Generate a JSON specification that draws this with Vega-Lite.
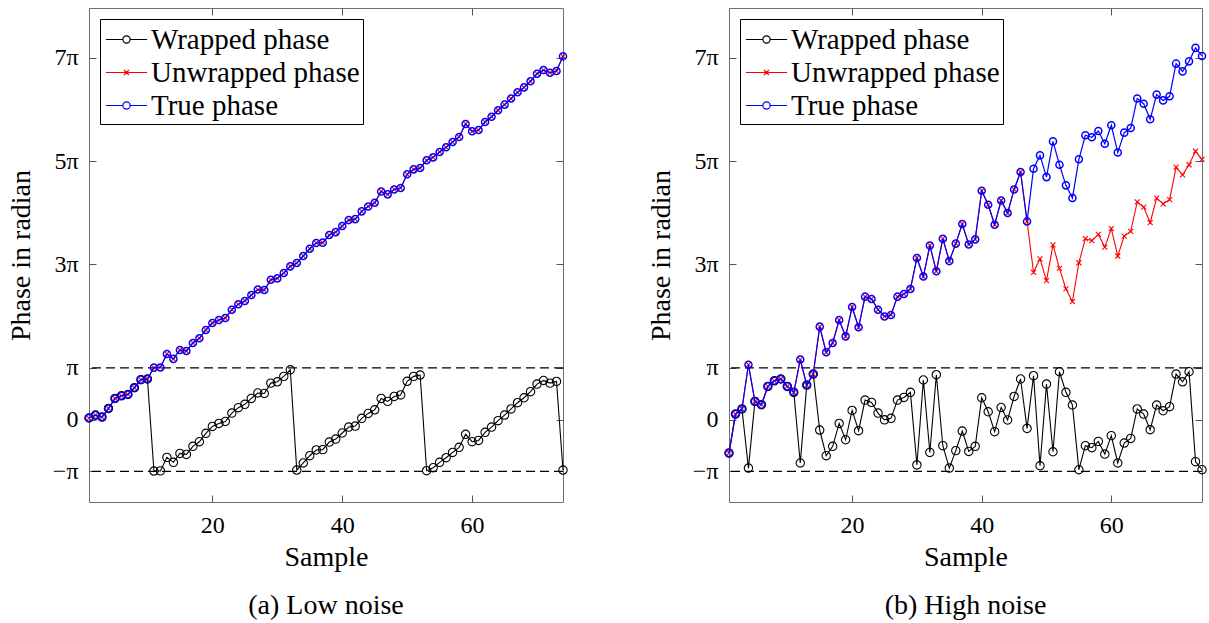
{
  "$schema": "https://vega.github.io/schema/vega-lite/v6.json",
  "background": "white",
  "padding": {"left": 6, "top": 7, "right": 2, "bottom": 0},
  "spacing": 75,
  "datasets": {
    "refs": [{"r": 3.14159265}, {"r": -3.14159265}],
    "a": [
{"s":"Wrapped phase","n":1,"v":0.1},{"s":"Wrapped phase","n":2,"v":0.28},{"s":"Wrapped phase","n":3,"v":0.16},{"s":"Wrapped phase","n":4,"v":0.68},{"s":"Wrapped phase","n":5,"v":1.29},{"s":"Wrapped phase","n":6,"v":1.45},{"s":"Wrapped phase","n":7,"v":1.53},{"s":"Wrapped phase","n":8,"v":1.94},{"s":"Wrapped phase","n":9,"v":2.43},{"s":"Wrapped phase","n":10,"v":2.47},{"s":"Wrapped phase","n":11,"v":-3.12},{"s":"Wrapped phase","n":12,"v":-3.11},{"s":"Wrapped phase","n":13,"v":-2.29},{"s":"Wrapped phase","n":14,"v":-2.59},{"s":"Wrapped phase","n":15,"v":-2.05},{"s":"Wrapped phase","n":16,"v":-2.11},{"s":"Wrapped phase","n":17,"v":-1.62},{"s":"Wrapped phase","n":18,"v":-1.34},{"s":"Wrapped phase","n":19,"v":-0.83},{"s":"Wrapped phase","n":20,"v":-0.41},{"s":"Wrapped phase","n":21,"v":-0.23},{"s":"Wrapped phase","n":22,"v":-0.11},{"s":"Wrapped phase","n":23,"v":0.4},{"s":"Wrapped phase","n":24,"v":0.73},{"s":"Wrapped phase","n":25,"v":0.93},{"s":"Wrapped phase","n":26,"v":1.29},{"s":"Wrapped phase","n":27,"v":1.62},{"s":"Wrapped phase","n":28,"v":1.59},{"s":"Wrapped phase","n":29,"v":2.22},{"s":"Wrapped phase","n":30,"v":2.3},{"s":"Wrapped phase","n":31,"v":2.63},{"s":"Wrapped phase","n":32,"v":3.03},{"s":"Wrapped phase","n":33,"v":-3.06},{"s":"Wrapped phase","n":34,"v":-2.63},{"s":"Wrapped phase","n":35,"v":-2.19},{"s":"Wrapped phase","n":36,"v":-1.84},{"s":"Wrapped phase","n":37,"v":-1.82},{"s":"Wrapped phase","n":38,"v":-1.36},{"s":"Wrapped phase","n":39,"v":-1.18},{"s":"Wrapped phase","n":40,"v":-0.81},{"s":"Wrapped phase","n":41,"v":-0.45},{"s":"Wrapped phase","n":42,"v":-0.39},{"s":"Wrapped phase","n":43,"v":0.08},{"s":"Wrapped phase","n":44,"v":0.38},{"s":"Wrapped phase","n":45,"v":0.6},{"s":"Wrapped phase","n":46,"v":1.29},{"s":"Wrapped phase","n":47,"v":1.11},{"s":"Wrapped phase","n":48,"v":1.41},{"s":"Wrapped phase","n":49,"v":1.5},{"s":"Wrapped phase","n":50,"v":2.33},{"s":"Wrapped phase","n":51,"v":2.63},{"s":"Wrapped phase","n":52,"v":2.71},{"s":"Wrapped phase","n":53,"v":-3.1},{"s":"Wrapped phase","n":54,"v":-2.92},{"s":"Wrapped phase","n":55,"v":-2.59},{"s":"Wrapped phase","n":56,"v":-2.31},{"s":"Wrapped phase","n":57,"v":-1.99},{"s":"Wrapped phase","n":58,"v":-1.68},{"s":"Wrapped phase","n":59,"v":-0.89},{"s":"Wrapped phase","n":60,"v":-1.34},{"s":"Wrapped phase","n":61,"v":-1.26},{"s":"Wrapped phase","n":62,"v":-0.77},{"s":"Wrapped phase","n":63,"v":-0.45},{"s":"Wrapped phase","n":64,"v":-0.06},{"s":"Wrapped phase","n":65,"v":0.28},{"s":"Wrapped phase","n":66,"v":0.65},{"s":"Wrapped phase","n":67,"v":1.03},{"s":"Wrapped phase","n":68,"v":1.33},{"s":"Wrapped phase","n":69,"v":1.7},{"s":"Wrapped phase","n":70,"v":2.16},{"s":"Wrapped phase","n":71,"v":2.38},{"s":"Wrapped phase","n":72,"v":2.22},{"s":"Wrapped phase","n":73,"v":2.32},{"s":"Wrapped phase","n":74,"v":-3.06},
{"s":"Unwrapped phase","n":1,"v":0.1},{"s":"Unwrapped phase","n":2,"v":0.28},{"s":"Unwrapped phase","n":3,"v":0.16},{"s":"Unwrapped phase","n":4,"v":0.68},{"s":"Unwrapped phase","n":5,"v":1.29},{"s":"Unwrapped phase","n":6,"v":1.45},{"s":"Unwrapped phase","n":7,"v":1.53},{"s":"Unwrapped phase","n":8,"v":1.94},{"s":"Unwrapped phase","n":9,"v":2.43},{"s":"Unwrapped phase","n":10,"v":2.47},{"s":"Unwrapped phase","n":11,"v":3.16},{"s":"Unwrapped phase","n":12,"v":3.17},{"s":"Unwrapped phase","n":13,"v":3.99},{"s":"Unwrapped phase","n":14,"v":3.69},{"s":"Unwrapped phase","n":15,"v":4.23},{"s":"Unwrapped phase","n":16,"v":4.17},{"s":"Unwrapped phase","n":17,"v":4.66},{"s":"Unwrapped phase","n":18,"v":4.94},{"s":"Unwrapped phase","n":19,"v":5.45},{"s":"Unwrapped phase","n":20,"v":5.87},{"s":"Unwrapped phase","n":21,"v":6.05},{"s":"Unwrapped phase","n":22,"v":6.17},{"s":"Unwrapped phase","n":23,"v":6.68},{"s":"Unwrapped phase","n":24,"v":7.01},{"s":"Unwrapped phase","n":25,"v":7.21},{"s":"Unwrapped phase","n":26,"v":7.57},{"s":"Unwrapped phase","n":27,"v":7.9},{"s":"Unwrapped phase","n":28,"v":7.87},{"s":"Unwrapped phase","n":29,"v":8.5},{"s":"Unwrapped phase","n":30,"v":8.58},{"s":"Unwrapped phase","n":31,"v":8.91},{"s":"Unwrapped phase","n":32,"v":9.31},{"s":"Unwrapped phase","n":33,"v":9.51},{"s":"Unwrapped phase","n":34,"v":9.94},{"s":"Unwrapped phase","n":35,"v":10.38},{"s":"Unwrapped phase","n":36,"v":10.73},{"s":"Unwrapped phase","n":37,"v":10.75},{"s":"Unwrapped phase","n":38,"v":11.21},{"s":"Unwrapped phase","n":39,"v":11.39},{"s":"Unwrapped phase","n":40,"v":11.76},{"s":"Unwrapped phase","n":41,"v":12.12},{"s":"Unwrapped phase","n":42,"v":12.18},{"s":"Unwrapped phase","n":43,"v":12.65},{"s":"Unwrapped phase","n":44,"v":12.95},{"s":"Unwrapped phase","n":45,"v":13.17},{"s":"Unwrapped phase","n":46,"v":13.86},{"s":"Unwrapped phase","n":47,"v":13.68},{"s":"Unwrapped phase","n":48,"v":13.98},{"s":"Unwrapped phase","n":49,"v":14.07},{"s":"Unwrapped phase","n":50,"v":14.9},{"s":"Unwrapped phase","n":51,"v":15.2},{"s":"Unwrapped phase","n":52,"v":15.28},{"s":"Unwrapped phase","n":53,"v":15.75},{"s":"Unwrapped phase","n":54,"v":15.93},{"s":"Unwrapped phase","n":55,"v":16.26},{"s":"Unwrapped phase","n":56,"v":16.54},{"s":"Unwrapped phase","n":57,"v":16.86},{"s":"Unwrapped phase","n":58,"v":17.17},{"s":"Unwrapped phase","n":59,"v":17.96},{"s":"Unwrapped phase","n":60,"v":17.51},{"s":"Unwrapped phase","n":61,"v":17.59},{"s":"Unwrapped phase","n":62,"v":18.08},{"s":"Unwrapped phase","n":63,"v":18.4},{"s":"Unwrapped phase","n":64,"v":18.79},{"s":"Unwrapped phase","n":65,"v":19.13},{"s":"Unwrapped phase","n":66,"v":19.5},{"s":"Unwrapped phase","n":67,"v":19.88},{"s":"Unwrapped phase","n":68,"v":20.18},{"s":"Unwrapped phase","n":69,"v":20.55},{"s":"Unwrapped phase","n":70,"v":21.01},{"s":"Unwrapped phase","n":71,"v":21.23},{"s":"Unwrapped phase","n":72,"v":21.07},{"s":"Unwrapped phase","n":73,"v":21.17},{"s":"Unwrapped phase","n":74,"v":22.07},
{"s":"True phase","n":1,"v":0.1},{"s":"True phase","n":2,"v":0.28},{"s":"True phase","n":3,"v":0.16},{"s":"True phase","n":4,"v":0.68},{"s":"True phase","n":5,"v":1.29},{"s":"True phase","n":6,"v":1.45},{"s":"True phase","n":7,"v":1.53},{"s":"True phase","n":8,"v":1.94},{"s":"True phase","n":9,"v":2.43},{"s":"True phase","n":10,"v":2.47},{"s":"True phase","n":11,"v":3.16},{"s":"True phase","n":12,"v":3.17},{"s":"True phase","n":13,"v":3.99},{"s":"True phase","n":14,"v":3.69},{"s":"True phase","n":15,"v":4.23},{"s":"True phase","n":16,"v":4.17},{"s":"True phase","n":17,"v":4.66},{"s":"True phase","n":18,"v":4.94},{"s":"True phase","n":19,"v":5.45},{"s":"True phase","n":20,"v":5.87},{"s":"True phase","n":21,"v":6.05},{"s":"True phase","n":22,"v":6.17},{"s":"True phase","n":23,"v":6.68},{"s":"True phase","n":24,"v":7.01},{"s":"True phase","n":25,"v":7.21},{"s":"True phase","n":26,"v":7.57},{"s":"True phase","n":27,"v":7.9},{"s":"True phase","n":28,"v":7.87},{"s":"True phase","n":29,"v":8.5},{"s":"True phase","n":30,"v":8.58},{"s":"True phase","n":31,"v":8.91},{"s":"True phase","n":32,"v":9.31},{"s":"True phase","n":33,"v":9.51},{"s":"True phase","n":34,"v":9.94},{"s":"True phase","n":35,"v":10.38},{"s":"True phase","n":36,"v":10.73},{"s":"True phase","n":37,"v":10.75},{"s":"True phase","n":38,"v":11.21},{"s":"True phase","n":39,"v":11.39},{"s":"True phase","n":40,"v":11.76},{"s":"True phase","n":41,"v":12.12},{"s":"True phase","n":42,"v":12.18},{"s":"True phase","n":43,"v":12.65},{"s":"True phase","n":44,"v":12.95},{"s":"True phase","n":45,"v":13.17},{"s":"True phase","n":46,"v":13.86},{"s":"True phase","n":47,"v":13.68},{"s":"True phase","n":48,"v":13.98},{"s":"True phase","n":49,"v":14.07},{"s":"True phase","n":50,"v":14.9},{"s":"True phase","n":51,"v":15.2},{"s":"True phase","n":52,"v":15.28},{"s":"True phase","n":53,"v":15.75},{"s":"True phase","n":54,"v":15.93},{"s":"True phase","n":55,"v":16.26},{"s":"True phase","n":56,"v":16.54},{"s":"True phase","n":57,"v":16.86},{"s":"True phase","n":58,"v":17.17},{"s":"True phase","n":59,"v":17.96},{"s":"True phase","n":60,"v":17.51},{"s":"True phase","n":61,"v":17.59},{"s":"True phase","n":62,"v":18.08},{"s":"True phase","n":63,"v":18.4},{"s":"True phase","n":64,"v":18.79},{"s":"True phase","n":65,"v":19.13},{"s":"True phase","n":66,"v":19.5},{"s":"True phase","n":67,"v":19.88},{"s":"True phase","n":68,"v":20.18},{"s":"True phase","n":69,"v":20.55},{"s":"True phase","n":70,"v":21.01},{"s":"True phase","n":71,"v":21.23},{"s":"True phase","n":72,"v":21.07},{"s":"True phase","n":73,"v":21.17},{"s":"True phase","n":74,"v":22.07}
    ],
    "b": [
{"s":"Wrapped phase","n":1,"v":-2.03},{"s":"Wrapped phase","n":2,"v":0.34},{"s":"Wrapped phase","n":3,"v":0.65},{"s":"Wrapped phase","n":4,"v":-2.94},{"s":"Wrapped phase","n":5,"v":1.11},{"s":"Wrapped phase","n":6,"v":0.91},{"s":"Wrapped phase","n":7,"v":2.02},{"s":"Wrapped phase","n":8,"v":2.36},{"s":"Wrapped phase","n":9,"v":2.47},{"s":"Wrapped phase","n":10,"v":2.02},{"s":"Wrapped phase","n":11,"v":1.66},{"s":"Wrapped phase","n":12,"v":-2.63},{"s":"Wrapped phase","n":13,"v":2.1},{"s":"Wrapped phase","n":14,"v":2.77},{"s":"Wrapped phase","n":15,"v":-0.63},{"s":"Wrapped phase","n":16,"v":-2.19},{"s":"Wrapped phase","n":17,"v":-1.62},{"s":"Wrapped phase","n":18,"v":-0.23},{"s":"Wrapped phase","n":19,"v":-1.22},{"s":"Wrapped phase","n":20,"v":0.56},{"s":"Wrapped phase","n":21,"v":-0.67},{"s":"Wrapped phase","n":22,"v":1.19},{"s":"Wrapped phase","n":23,"v":1.05},{"s":"Wrapped phase","n":24,"v":0.4},{"s":"Wrapped phase","n":25,"v":-0.01},{"s":"Wrapped phase","n":26,"v":0.08},{"s":"Wrapped phase","n":27,"v":1.19},{"s":"Wrapped phase","n":28,"v":1.35},{"s":"Wrapped phase","n":29,"v":1.66},{"s":"Wrapped phase","n":30,"v":-2.75},{"s":"Wrapped phase","n":31,"v":2.41},{"s":"Wrapped phase","n":32,"v":-1.99},{"s":"Wrapped phase","n":33,"v":2.73},{"s":"Wrapped phase","n":34,"v":-1.58},{"s":"Wrapped phase","n":35,"v":-2.94},{"s":"Wrapped phase","n":36,"v":-1.88},{"s":"Wrapped phase","n":37,"v":-0.69},{"s":"Wrapped phase","n":38,"v":-1.93},{"s":"Wrapped phase","n":39,"v":-1.62},{"s":"Wrapped phase","n":40,"v":1.33},{"s":"Wrapped phase","n":41,"v":0.48},{"s":"Wrapped phase","n":42,"v":-0.73},{"s":"Wrapped phase","n":43,"v":0.74},{"s":"Wrapped phase","n":44,"v":-0.02},{"s":"Wrapped phase","n":45,"v":1.41},{"s":"Wrapped phase","n":46,"v":2.47},{"s":"Wrapped phase","n":47,"v":-0.53},{"s":"Wrapped phase","n":48,"v":2.67},{"s":"Wrapped phase","n":49,"v":-2.8},{"s":"Wrapped phase","n":50,"v":2.16},{"s":"Wrapped phase","n":51,"v":-1.95},{"s":"Wrapped phase","n":52,"v":2.91},{"s":"Wrapped phase","n":53,"v":1.66},{"s":"Wrapped phase","n":54,"v":0.89},{"s":"Wrapped phase","n":55,"v":-3.04},{"s":"Wrapped phase","n":56,"v":-1.58},{"s":"Wrapped phase","n":57,"v":-1.7},{"s":"Wrapped phase","n":58,"v":-1.32},{"s":"Wrapped phase","n":59,"v":-2.09},{"s":"Wrapped phase","n":60,"v":-0.97},{"s":"Wrapped phase","n":61,"v":-2.63},{"s":"Wrapped phase","n":62,"v":-1.42},{"s":"Wrapped phase","n":63,"v":-1.14},{"s":"Wrapped phase","n":64,"v":0.65},{"s":"Wrapped phase","n":65,"v":0.34},{"s":"Wrapped phase","n":66,"v":-0.61},{"s":"Wrapped phase","n":67,"v":0.89},{"s":"Wrapped phase","n":68,"v":0.54},{"s":"Wrapped phase","n":69,"v":0.79},{"s":"Wrapped phase","n":70,"v":2.77},{"s":"Wrapped phase","n":71,"v":2.3},{"s":"Wrapped phase","n":72,"v":2.91},{"s":"Wrapped phase","n":73,"v":-2.55},{"s":"Wrapped phase","n":74,"v":-3.04},
{"s":"Unwrapped phase","n":1,"v":-2.03},{"s":"Unwrapped phase","n":2,"v":0.34},{"s":"Unwrapped phase","n":3,"v":0.65},{"s":"Unwrapped phase","n":4,"v":3.34},{"s":"Unwrapped phase","n":5,"v":1.11},{"s":"Unwrapped phase","n":6,"v":0.91},{"s":"Unwrapped phase","n":7,"v":2.02},{"s":"Unwrapped phase","n":8,"v":2.36},{"s":"Unwrapped phase","n":9,"v":2.47},{"s":"Unwrapped phase","n":10,"v":2.02},{"s":"Unwrapped phase","n":11,"v":1.66},{"s":"Unwrapped phase","n":12,"v":3.65},{"s":"Unwrapped phase","n":13,"v":2.1},{"s":"Unwrapped phase","n":14,"v":2.77},{"s":"Unwrapped phase","n":15,"v":5.65},{"s":"Unwrapped phase","n":16,"v":4.09},{"s":"Unwrapped phase","n":17,"v":4.66},{"s":"Unwrapped phase","n":18,"v":6.05},{"s":"Unwrapped phase","n":19,"v":5.06},{"s":"Unwrapped phase","n":20,"v":6.84},{"s":"Unwrapped phase","n":21,"v":5.61},{"s":"Unwrapped phase","n":22,"v":7.47},{"s":"Unwrapped phase","n":23,"v":7.33},{"s":"Unwrapped phase","n":24,"v":6.68},{"s":"Unwrapped phase","n":25,"v":6.27},{"s":"Unwrapped phase","n":26,"v":6.36},{"s":"Unwrapped phase","n":27,"v":7.47},{"s":"Unwrapped phase","n":28,"v":7.63},{"s":"Unwrapped phase","n":29,"v":7.94},{"s":"Unwrapped phase","n":30,"v":9.82},{"s":"Unwrapped phase","n":31,"v":8.69},{"s":"Unwrapped phase","n":32,"v":10.58},{"s":"Unwrapped phase","n":33,"v":9.01},{"s":"Unwrapped phase","n":34,"v":10.99},{"s":"Unwrapped phase","n":35,"v":9.63},{"s":"Unwrapped phase","n":36,"v":10.69},{"s":"Unwrapped phase","n":37,"v":11.88},{"s":"Unwrapped phase","n":38,"v":10.64},{"s":"Unwrapped phase","n":39,"v":10.95},{"s":"Unwrapped phase","n":40,"v":13.9},{"s":"Unwrapped phase","n":41,"v":13.05},{"s":"Unwrapped phase","n":42,"v":11.84},{"s":"Unwrapped phase","n":43,"v":13.31},{"s":"Unwrapped phase","n":44,"v":12.55},{"s":"Unwrapped phase","n":45,"v":13.98},{"s":"Unwrapped phase","n":46,"v":15.04},{"s":"Unwrapped phase","n":47,"v":12.04},{"s":"Unwrapped phase","n":48,"v":8.95},{"s":"Unwrapped phase","n":49,"v":9.77},{"s":"Unwrapped phase","n":50,"v":8.44},{"s":"Unwrapped phase","n":51,"v":10.62},{"s":"Unwrapped phase","n":52,"v":9.19},{"s":"Unwrapped phase","n":53,"v":7.94},{"s":"Unwrapped phase","n":54,"v":7.17},{"s":"Unwrapped phase","n":55,"v":9.53},{"s":"Unwrapped phase","n":56,"v":10.99},{"s":"Unwrapped phase","n":57,"v":10.87},{"s":"Unwrapped phase","n":58,"v":11.25},{"s":"Unwrapped phase","n":59,"v":10.48},{"s":"Unwrapped phase","n":60,"v":11.6},{"s":"Unwrapped phase","n":61,"v":9.94},{"s":"Unwrapped phase","n":62,"v":11.15},{"s":"Unwrapped phase","n":63,"v":11.43},{"s":"Unwrapped phase","n":64,"v":13.22},{"s":"Unwrapped phase","n":65,"v":12.91},{"s":"Unwrapped phase","n":66,"v":11.96},{"s":"Unwrapped phase","n":67,"v":13.46},{"s":"Unwrapped phase","n":68,"v":13.11},{"s":"Unwrapped phase","n":69,"v":13.36},{"s":"Unwrapped phase","n":70,"v":15.34},{"s":"Unwrapped phase","n":71,"v":14.87},{"s":"Unwrapped phase","n":72,"v":15.48},{"s":"Unwrapped phase","n":73,"v":16.3},{"s":"Unwrapped phase","n":74,"v":15.81},
{"s":"True phase","n":1,"v":-2.03},{"s":"True phase","n":2,"v":0.34},{"s":"True phase","n":3,"v":0.65},{"s":"True phase","n":4,"v":3.34},{"s":"True phase","n":5,"v":1.11},{"s":"True phase","n":6,"v":0.91},{"s":"True phase","n":7,"v":2.02},{"s":"True phase","n":8,"v":2.36},{"s":"True phase","n":9,"v":2.47},{"s":"True phase","n":10,"v":2.02},{"s":"True phase","n":11,"v":1.66},{"s":"True phase","n":12,"v":3.65},{"s":"True phase","n":13,"v":2.1},{"s":"True phase","n":14,"v":2.77},{"s":"True phase","n":15,"v":5.65},{"s":"True phase","n":16,"v":4.09},{"s":"True phase","n":17,"v":4.66},{"s":"True phase","n":18,"v":6.05},{"s":"True phase","n":19,"v":5.06},{"s":"True phase","n":20,"v":6.84},{"s":"True phase","n":21,"v":5.61},{"s":"True phase","n":22,"v":7.47},{"s":"True phase","n":23,"v":7.33},{"s":"True phase","n":24,"v":6.68},{"s":"True phase","n":25,"v":6.27},{"s":"True phase","n":26,"v":6.36},{"s":"True phase","n":27,"v":7.47},{"s":"True phase","n":28,"v":7.63},{"s":"True phase","n":29,"v":7.94},{"s":"True phase","n":30,"v":9.82},{"s":"True phase","n":31,"v":8.69},{"s":"True phase","n":32,"v":10.58},{"s":"True phase","n":33,"v":9.01},{"s":"True phase","n":34,"v":10.99},{"s":"True phase","n":35,"v":9.63},{"s":"True phase","n":36,"v":10.69},{"s":"True phase","n":37,"v":11.88},{"s":"True phase","n":38,"v":10.64},{"s":"True phase","n":39,"v":10.95},{"s":"True phase","n":40,"v":13.9},{"s":"True phase","n":41,"v":13.05},{"s":"True phase","n":42,"v":11.84},{"s":"True phase","n":43,"v":13.31},{"s":"True phase","n":44,"v":12.55},{"s":"True phase","n":45,"v":13.98},{"s":"True phase","n":46,"v":15.04},{"s":"True phase","n":47,"v":12.04},{"s":"True phase","n":48,"v":15.24},{"s":"True phase","n":49,"v":16.05},{"s":"True phase","n":50,"v":14.73},{"s":"True phase","n":51,"v":16.9},{"s":"True phase","n":52,"v":15.48},{"s":"True phase","n":53,"v":14.23},{"s":"True phase","n":54,"v":13.46},{"s":"True phase","n":55,"v":15.81},{"s":"True phase","n":56,"v":17.27},{"s":"True phase","n":57,"v":17.15},{"s":"True phase","n":58,"v":17.53},{"s":"True phase","n":59,"v":16.76},{"s":"True phase","n":60,"v":17.88},{"s":"True phase","n":61,"v":16.22},{"s":"True phase","n":62,"v":17.43},{"s":"True phase","n":63,"v":17.71},{"s":"True phase","n":64,"v":19.5},{"s":"True phase","n":65,"v":19.19},{"s":"True phase","n":66,"v":18.24},{"s":"True phase","n":67,"v":19.74},{"s":"True phase","n":68,"v":19.39},{"s":"True phase","n":69,"v":19.64},{"s":"True phase","n":70,"v":21.62},{"s":"True phase","n":71,"v":21.15},{"s":"True phase","n":72,"v":21.76},{"s":"True phase","n":73,"v":22.58},{"s":"True phase","n":74,"v":22.09}
    ]
  },
  "resolve": {"scale": {"color": "independent"}, "legend": {"color": "independent"}},
  "hconcat": [
    {
      "width": 474,
      "height": 494,
      "data": {"name": "a"},
      "title": {"text": "(a) Low noise"},
      "resolve": {"axis": {"x": "independent", "y": "independent"}},
      "layer": [
        {"data": {"name": "refs"}, "mark": {"type": "rule", "strokeDash": [9, 5], "strokeWidth": 1.2, "color": "black"},
         "encoding": {"y": {"field": "r", "type": "quantitative", "scale": {"domain": [-5, 25], "nice": false, "zero": false}, "axis": null}}},
        {"transform": [{"filter": "datum.s === 'Wrapped phase'"}], "mark": {"type": "line", "strokeWidth": 1.1},
         "encoding": {
           "x": {"field": "n", "type": "quantitative", "scale": {"domain": [1, 74], "nice": false, "zero": false}, "axis": {"orient": "bottom", "values": [20, 40, 60], "title": "Sample", "labelPadding": 18, "titlePadding": 6, "labelFont": "Liberation Serif", "titleFont": "Liberation Serif"}},
           "y": {"field": "v", "type": "quantitative", "axis": {"orient": "left", "values": [-3.14159265, 0, 3.14159265, 9.42477796, 15.70796327, 21.99114858], "labelExpr": "datum.value < -1 ? '−π' : (datum.value < 1 ? '0' : (datum.value < 4 ? 'π' : format(round(datum.value / PI), 'd') + 'π'))", "title": "Phase in radian", "labelPadding": 18, "titlePadding": 17, "labelFont": "Liberation Serif", "titleFont": "Liberation Serif"}},
           "color": {"field": "s", "type": "nominal", "scale": {"domain": ["Wrapped phase", "Unwrapped phase", "True phase"], "range": ["black", "red", "blue"]},
             "legend": {"orient": "top-left", "offset": 11, "title": null, "labelFont": "Liberation Serif", "labelFontSize": 29, "symbolType": "M-1.25,0L-0.22,0M0.22,0L1.25,0M-0.22,0A0.22,0.22,0,1,1,0.22,0A0.22,0.22,0,1,1,-0.22,0", "symbolSize": 1089, "symbolOffset": 6, "symbolFillColor": "transparent", "symbolStrokeWidth": 1.2, "labelOffset": 7, "rowPadding": 0, "padding": 3,
               "encode": {"symbols": {"update": {"shape": {"signal": "datum.value === 'Unwrapped phase' ? 'M-1.25,0L1.25,0M-0.15,-0.15L0.15,0.15M-0.15,0.15L0.15,-0.15' : 'M-1.25,0L-0.22,0M0.22,0L1.25,0M-0.22,0A0.22,0.22,0,1,1,0.22,0A0.22,0.22,0,1,1,-0.22,0'"}, "fill": {"value": "transparent"}}}, "labels": {"update": {"font": {"value": "Liberation Serif"}}}}}}}},
        {"transform": [{"filter": "datum.s === 'Wrapped phase'"}], "mark": {"type": "point", "shape": "circle", "filled": false, "color": "black", "size": 70, "strokeWidth": 1.1, "opacity": 1},
         "encoding": {"x": {"field": "n", "type": "quantitative", "axis": null}, "y": {"field": "v", "type": "quantitative", "axis": null}}},
        {"transform": [{"filter": "datum.s === 'Unwrapped phase'"}], "mark": {"type": "line", "strokeWidth": 1.1},
         "encoding": {"x": {"field": "n", "type": "quantitative", "axis": null}, "y": {"field": "v", "type": "quantitative", "axis": null}, "color": {"field": "s", "type": "nominal"}}},
        {"transform": [{"filter": "datum.s === 'Unwrapped phase'"}], "mark": {"type": "point", "shape": "M-1,-1L1,1M-1,1L1,-1", "filled": false, "color": "red", "size": 25, "strokeWidth": 1.1, "opacity": 1},
         "encoding": {
           "x": {"field": "n", "type": "quantitative", "axis": {"orient": "top", "values": [20, 40, 60], "labels": false, "title": null}},
           "y": {"field": "v", "type": "quantitative", "axis": {"orient": "right", "values": [-3.14159265, 0, 3.14159265, 9.42477796, 15.70796327, 21.99114858], "labels": false, "title": null}}}},
        {"transform": [{"filter": "datum.s === 'True phase'"}], "mark": {"type": "line", "strokeWidth": 1.2},
         "encoding": {"x": {"field": "n", "type": "quantitative", "axis": null}, "y": {"field": "v", "type": "quantitative", "axis": null}, "color": {"field": "s", "type": "nominal"}}},
        {"transform": [{"filter": "datum.s === 'True phase'"}], "mark": {"type": "point", "shape": "circle", "filled": false, "color": "blue", "size": 50, "strokeWidth": 1.5, "opacity": 1},
         "encoding": {"x": {"field": "n", "type": "quantitative", "axis": null}, "y": {"field": "v", "type": "quantitative", "axis": null}}}
      ]
    },
    {
      "width": 473,
      "height": 494,
      "data": {"name": "b"},
      "title": {"text": "(b) High noise"},
      "resolve": {"axis": {"x": "independent", "y": "independent"}},
      "layer": [
        {"data": {"name": "refs"}, "mark": {"type": "rule", "strokeDash": [9, 5], "strokeWidth": 1.2, "color": "black"},
         "encoding": {"y": {"field": "r", "type": "quantitative", "scale": {"domain": [-5, 25], "nice": false, "zero": false}, "axis": null}}},
        {"transform": [{"filter": "datum.s === 'Wrapped phase'"}], "mark": {"type": "line", "strokeWidth": 1.1},
         "encoding": {
           "x": {"field": "n", "type": "quantitative", "scale": {"domain": [1, 74], "nice": false, "zero": false}, "axis": {"orient": "bottom", "values": [20, 40, 60], "title": "Sample", "labelPadding": 18, "titlePadding": 6, "labelFont": "Liberation Serif", "titleFont": "Liberation Serif"}},
           "y": {"field": "v", "type": "quantitative", "axis": {"orient": "left", "values": [-3.14159265, 0, 3.14159265, 9.42477796, 15.70796327, 21.99114858], "labelExpr": "datum.value < -1 ? '−π' : (datum.value < 1 ? '0' : (datum.value < 4 ? 'π' : format(round(datum.value / PI), 'd') + 'π'))", "title": "Phase in radian", "labelPadding": 18, "titlePadding": 17, "labelFont": "Liberation Serif", "titleFont": "Liberation Serif"}},
           "color": {"field": "s", "type": "nominal", "scale": {"domain": ["Wrapped phase", "Unwrapped phase", "True phase"], "range": ["black", "red", "blue"]},
             "legend": {"orient": "top-left", "offset": 11, "title": null, "labelFont": "Liberation Serif", "labelFontSize": 29, "symbolType": "M-1.25,0L-0.22,0M0.22,0L1.25,0M-0.22,0A0.22,0.22,0,1,1,0.22,0A0.22,0.22,0,1,1,-0.22,0", "symbolSize": 1089, "symbolOffset": 6, "symbolFillColor": "transparent", "symbolStrokeWidth": 1.2, "labelOffset": 7, "rowPadding": 0, "padding": 3,
               "encode": {"symbols": {"update": {"shape": {"signal": "datum.value === 'Unwrapped phase' ? 'M-1.25,0L1.25,0M-0.15,-0.15L0.15,0.15M-0.15,0.15L0.15,-0.15' : 'M-1.25,0L-0.22,0M0.22,0L1.25,0M-0.22,0A0.22,0.22,0,1,1,0.22,0A0.22,0.22,0,1,1,-0.22,0'"}, "fill": {"value": "transparent"}}}, "labels": {"update": {"font": {"value": "Liberation Serif"}}}}}}}},
        {"transform": [{"filter": "datum.s === 'Wrapped phase'"}], "mark": {"type": "point", "shape": "circle", "filled": false, "color": "black", "size": 70, "strokeWidth": 1.1, "opacity": 1},
         "encoding": {"x": {"field": "n", "type": "quantitative", "axis": null}, "y": {"field": "v", "type": "quantitative", "axis": null}}},
        {"transform": [{"filter": "datum.s === 'Unwrapped phase'"}], "mark": {"type": "line", "strokeWidth": 1.1},
         "encoding": {"x": {"field": "n", "type": "quantitative", "axis": null}, "y": {"field": "v", "type": "quantitative", "axis": null}, "color": {"field": "s", "type": "nominal"}}},
        {"transform": [{"filter": "datum.s === 'Unwrapped phase'"}], "mark": {"type": "point", "shape": "M-1,-1L1,1M-1,1L1,-1", "filled": false, "color": "red", "size": 25, "strokeWidth": 1.1, "opacity": 1},
         "encoding": {
           "x": {"field": "n", "type": "quantitative", "axis": {"orient": "top", "values": [20, 40, 60], "labels": false, "title": null}},
           "y": {"field": "v", "type": "quantitative", "axis": {"orient": "right", "values": [-3.14159265, 0, 3.14159265, 9.42477796, 15.70796327, 21.99114858], "labels": false, "title": null}}}},
        {"transform": [{"filter": "datum.s === 'True phase'"}], "mark": {"type": "line", "strokeWidth": 1.2},
         "encoding": {"x": {"field": "n", "type": "quantitative", "axis": null}, "y": {"field": "v", "type": "quantitative", "axis": null}, "color": {"field": "s", "type": "nominal"}}},
        {"transform": [{"filter": "datum.s === 'True phase'"}], "mark": {"type": "point", "shape": "circle", "filled": false, "color": "blue", "size": 50, "strokeWidth": 1.5, "opacity": 1},
         "encoding": {"x": {"field": "n", "type": "quantitative", "axis": null}, "y": {"field": "v", "type": "quantitative", "axis": null}}}
      ]
    }
  ],
  "config": {
    "font": "Liberation Serif",
    "view": {"stroke": "#6e6e6e", "strokeWidth": 1},
    "style": {"guide-label": {"font": "Liberation Serif"}, "guide-title": {"font": "Liberation Serif", "fontWeight": "normal"}, "group-title": {"font": "Liberation Serif"}},
    "axis": {"domain": false, "grid": false, "tickColor": "#555", "tickSize": -7, "tickWidth": 1, "labelFont": "Liberation Serif", "labelFontSize": 24, "labelColor": "black", "titleFont": "Liberation Serif", "titleFontSize": 28, "titleFontWeight": "normal", "titleColor": "black"},
    "legend": {
      "strokeColor": "black", "fillColor": "white", "cornerRadius": 0,
      "labelFont": "Liberation Serif", "labelFontSize": 29, "labelColor": "black", "labelLimit": 400
    },
    "title": {"orient": "bottom", "anchor": "middle", "frame": "group", "font": "Liberation Serif", "fontSize": 28, "fontWeight": "normal", "color": "black", "offset": 21}
  }
}
